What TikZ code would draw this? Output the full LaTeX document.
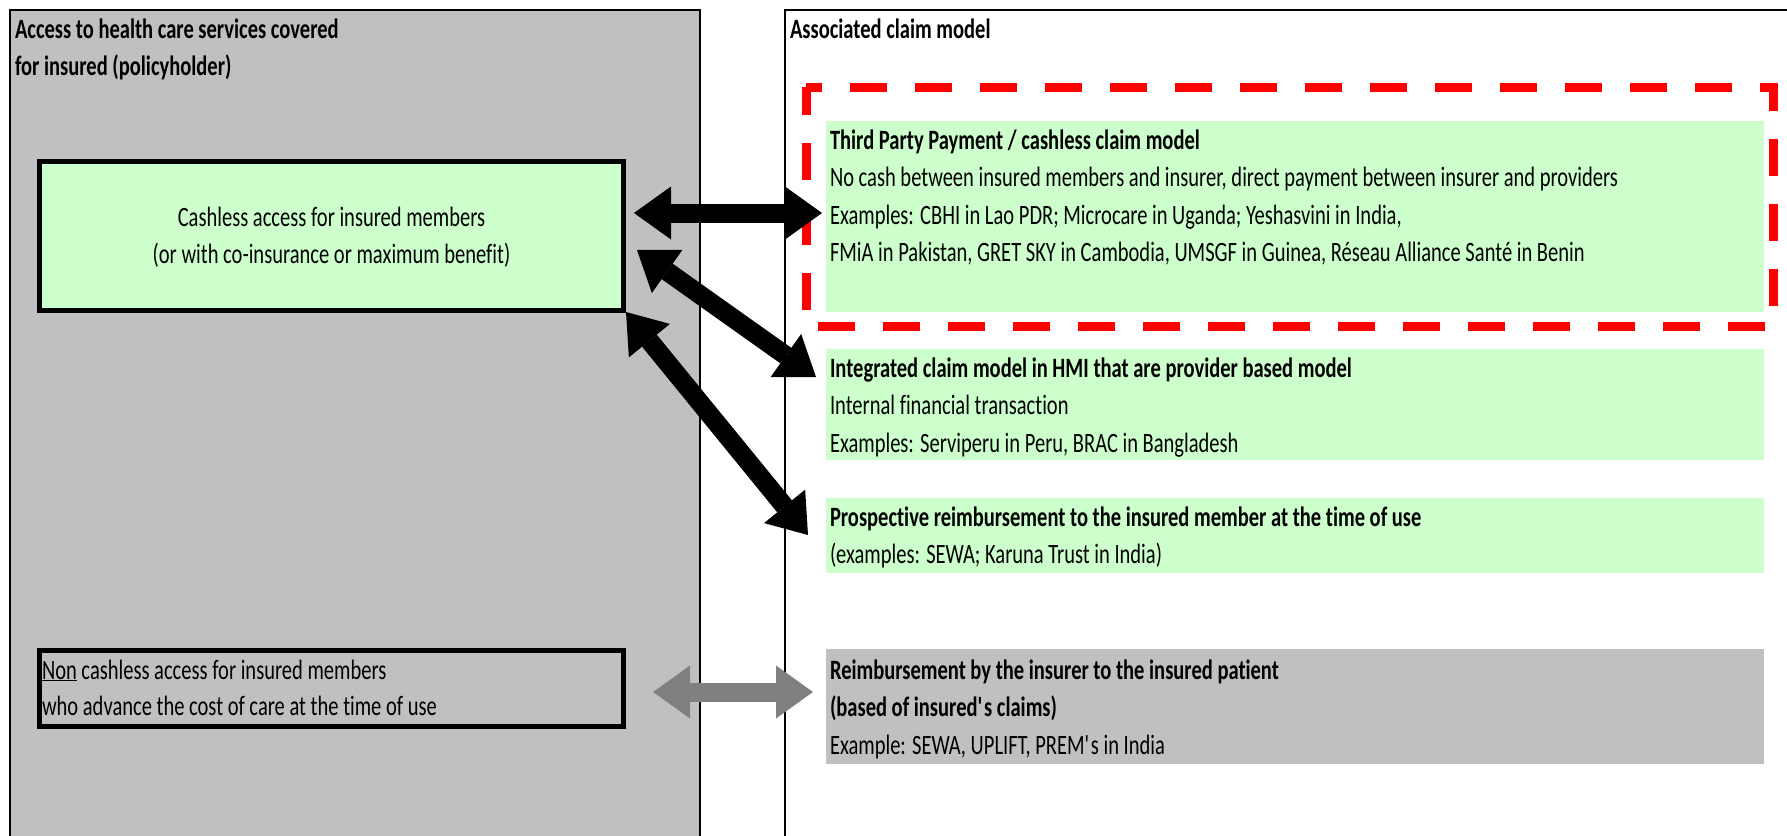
\documentclass[tikz,border=0pt]{standalone}
\usepackage{fontspec}
\setmainfont{Carlito}[FakeStretch=0.733, Ligatures={NoCommon}]
\usetikzlibrary{arrows.meta,calc}
\definecolor{boxgreen}{HTML}{CCFFCC}
\definecolor{panelgray}{HTML}{C0C0C0}
\definecolor{arrowgray}{HTML}{808080}
\tikzset{
  panelbox/.style={draw=black, line width=2pt, inner sep=0pt, outer sep=0pt},
  modelbox/.style={draw=none, inner sep=0pt, outer sep=0pt},
  accessbox/.style={draw=black, line width=5pt, inner sep=0pt, outer sep=0pt},
  txt/.style={anchor=base west, inner sep=0pt, outer sep=0pt, font=\fontsize{28}{34}\selectfont},
  btxt/.style={txt, font=\fontsize{28}{34}\selectfont\bfseries},
  ctxt/.style={txt, anchor=base},
  dblarrow/.style={line width=19pt, {Triangle[length=37pt, width=53pt, line width=0pt]}-{Triangle[length=37pt, width=53pt, line width=0pt]}},
  redframe/.style={draw=red, line width=9pt, dash pattern=on 37pt off 28pt, dash phase=21pt}
}
\begin{document}
\begin{tikzpicture}[x=1pt, y=-1pt]
\useasboundingbox (0,0) rectangle (1787,835);
\clip (0,0) rectangle (1787,835);

% two panels
\node[panelbox, fill=panelgray, minimum width=690pt, minimum height=900pt] (leftpanel) at (355,460) {};
\node[panelbox, fill=white, minimum width=1200pt, minimum height=900pt] (rightpanel) at (1385,460) {};

\node[btxt] (lt1) at (15,38) {Access to health care services covered};
\node[btxt] (lt2) at (15,75.5) {for insured (policyholder)};
\node[btxt] (rt1) at (790,38) {Associated claim model};

% access boxes on the left
\node[accessbox, fill=boxgreen, minimum width=584pt, minimum height=149pt] (cash) at (331.5,236) {};
\node[ctxt] (cash1) at (331.5,226.5) {Cashless access for insured members};
\node[ctxt] (cash2) at (331.5,263.5) {(or with co-insurance or maximum benefit)};

\node[accessbox, fill=panelgray, minimum width=584pt, minimum height=76pt] (noncash) at (331.5,688.5) {};
\node[txt] (nc1) at (42,679) {\underline{Non} cashless access for insured members};
\node[txt] (nc2) at (42,715) {who advance the cost of care at the time of use};

% claim models on the right
\node[modelbox, fill=boxgreen, anchor=north west, minimum width=938pt, minimum height=191pt] (tpp) at (826,121) {};
\node[btxt] (tpp1) at (830,149) {Third Party Payment / cashless claim model};
\node[txt] (tpp2) at (830,186.5) {No cash between insured members and insurer, direct payment between insurer and providers};
\node[txt] (tpp3) at (830,224) {Examples: CBHI in Lao PDR; Microcare in Uganda; Yeshasvini in India,};
\node[txt] (tpp4) at (830,261.5) {FMiA in Pakistan, GRET SKY in Cambodia, UMSGF in Guinea, Réseau Alliance Santé in Benin};

\node[modelbox, fill=boxgreen, anchor=north west, minimum width=938pt, minimum height=111pt] (integ) at (826,349) {};
\node[btxt] (integ1) at (830,377) {Integrated claim model in HMI that are provider based model};
\node[txt] (integ2) at (830,414.5) {Internal financial transaction};
\node[txt] (integ3) at (830,452) {Examples: Serviperu in Peru, BRAC in Bangladesh};

\node[modelbox, fill=boxgreen, anchor=north west, minimum width=938pt, minimum height=75pt] (prosp) at (826,498) {};
\node[btxt] (prosp1) at (830,526) {Prospective reimbursement to the insured member at the time of use};
\node[txt] (prosp2) at (830,563.5) {(examples: SEWA; Karuna Trust in India)};

\node[modelbox, fill=panelgray, anchor=north west, minimum width=938pt, minimum height=115pt] (reimb) at (826,649) {};
\node[btxt] (reimb1) at (830,679) {Reimbursement by the insurer to the insured patient};
\node[btxt] (reimb2) at (830,716.5) {(based of insured\textquotesingle s claims)};
\node[txt] (reimb3) at (830,754) {Example: SEWA, UPLIFT, PREM\textquotesingle s in India};

% dashed frame around the third party payment model
\coordinate (fr1) at (806,87);
\coordinate (fr2) at (1773,87);
\coordinate (fr3) at (1773,326);
\coordinate (fr4) at (806,326);
\draw[redframe] (fr1) -- (fr2) -- (fr3) -- (fr4) -- cycle;

% links between access and claim models
\draw[dblarrow] ($(cash.east)+(10.5,-23)$) -- ($(tpp.west)+(-4,-3.5)$);
\draw[dblarrow] ($(cash.east)+(13.5,14)$) -- ($(integ.west)+(-10,-27.5)$);
\draw[dblarrow] ($(cash.south east)+(2.5,1.5)$) -- ($(prosp.west)+(-18,-0.5)$);
\draw[dblarrow, draw=arrowgray, fill=arrowgray] ($(noncash.east)+(29.5,3.5)$) -- ($(reimb.west)+(-13,-14.5)$);
\end{tikzpicture}
\end{document}
